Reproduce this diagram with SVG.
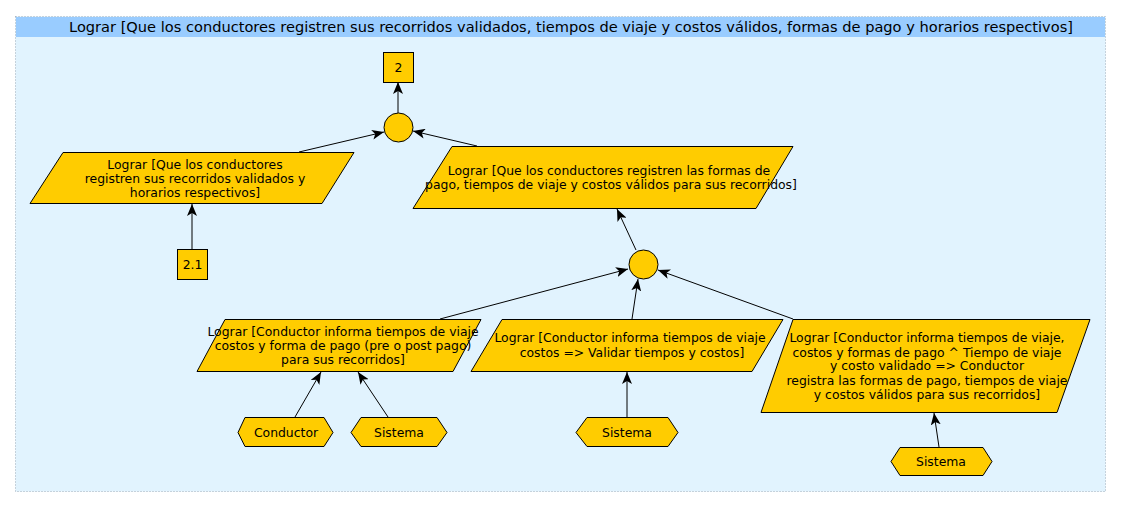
<svg xmlns="http://www.w3.org/2000/svg" width="1121" height="507" viewBox="0 0 1121 507">
<style>
.goal{fill:#ffcc00;stroke:#000;stroke-width:1}
.t{font-family:"DejaVu Sans",sans-serif;font-size:12.4px;fill:#000;text-anchor:middle}
.h{font-family:"DejaVu Sans",sans-serif;font-size:14.6px;fill:#000;text-anchor:middle}
.c{stroke:#000;stroke-width:1;fill:none;marker-end:url(#arr)}
</style>
<defs>
<marker id="arr" markerUnits="userSpaceOnUse" viewBox="0 0 12 10" refX="12" refY="5" markerWidth="12" markerHeight="10" orient="auto">
<path d="M0,0 L12,5 L0,10 L3,5 z" fill="#000"/>
</marker>
</defs>
<g id="container">
<rect x="15.5" y="16.5" width="1090" height="475" fill="#e1f3fe" stroke="#9aaabb" stroke-dasharray="1,2"/>
<rect x="16" y="17" width="1089" height="20" fill="#99ccff"/>
<text class="h" x="571" y="32">Lograr [Que los conductores registren sus recorridos validados, tiempos de viaje y costos válidos, formas de pago y horarios respectivos]</text>
</g>
<g id="connectors">
<line class="c" x1="398" y1="113" x2="398" y2="82"/>
<line class="c" x1="299" y1="152" x2="384" y2="132"/>
<line class="c" x1="477" y1="146" x2="413" y2="131"/>
<line class="c" x1="192" y1="249" x2="192" y2="204"/>
<line class="c" x1="636" y1="250" x2="617" y2="209"/>
<line class="c" x1="440" y1="319" x2="628" y2="269"/>
<line class="c" x1="632" y1="319" x2="638" y2="279"/>
<line class="c" x1="793" y1="319" x2="658" y2="270"/>
<line class="c" x1="295" y1="417" x2="321" y2="372"/>
<line class="c" x1="388" y1="417" x2="358" y2="372"/>
<line class="c" x1="627" y1="417" x2="627" y2="372"/>
<line class="c" x1="939" y1="447" x2="934" y2="413"/>
</g>
<g id="n2">
<rect class="goal" x="383.5" y="52.5" width="30" height="30"/>
<text class="t" x="398.5" y="71.5">2</text>
</g>
<g id="and1">
<circle class="goal" cx="398.5" cy="127.5" r="14.5"/>
</g>
<g id="g-left">
<polygon class="goal" points="63,152.5 354,152.5 322,203.5 30,203.5"/>
<text class="t" x="195" y="168.5">Lograr [Que los conductores</text>
<text class="t" x="195" y="182.5">registren sus recorridos validados y</text>
<text class="t" x="195" y="196.5">horarios respectivos]</text>
</g>
<g id="g-right">
<polygon class="goal" points="452,146.5 793,146.5 756,208.5 413,208.5"/>
<text class="t" x="609" y="175">Lograr [Que los conductores registren las formas de</text>
<text class="t" x="611" y="189">pago, tiempos de viaje y costos válidos para sus recorridos]</text>
</g>
<g id="n21">
<rect class="goal" x="177.5" y="249.5" width="30" height="30"/>
<text class="t" x="192.5" y="268.5">2.1</text>
</g>
<g id="and2">
<circle class="goal" cx="643.5" cy="264.5" r="14.5"/>
</g>
<g id="g-b1">
<polygon class="goal" points="225,319.5 481,319.5 453,371.5 197,371.5"/>
<text class="t" x="343" y="335.5">Lograr [Conductor informa tiempos de viaje</text>
<text class="t" x="343" y="349.5">costos y forma de pago (pre o post pago)</text>
<text class="t" x="343" y="363.5">para sus recorridos]</text>
</g>
<g id="g-b2">
<polygon class="goal" points="502,319.5 783,319.5 752,371.5 471,371.5"/>
<text class="t" x="630" y="342">Lograr [Conductor informa tiempos de viaje</text>
<text class="t" x="632" y="356.5">costos =&gt; Validar tiempos y costos]</text>
</g>
<g id="g-b3">
<polygon class="goal" points="793,319.5 1090,319.5 1057,412.5 761,412.5"/>
<text class="t" x="927" y="342">Lograr [Conductor informa tiempos de viaje,</text>
<text class="t" x="927" y="356.5">costos y formas de pago ^ Tiempo de viaje</text>
<text class="t" x="927" y="370">y costo validado =&gt; Conductor</text>
<text class="t" x="927" y="384.5">registra las formas de pago, tiempos de viaje</text>
<text class="t" x="927" y="398.5">y costos válidos para sus recorridos]</text>
</g>
<g id="a-conductor">
<polygon class="goal" points="238,432.5 245,417.5 324,417.5 333,432.5 324,446.5 245,446.5"/>
<text class="t" x="286" y="436.5">Conductor</text>
</g>
<g id="a-sistema1">
<polygon class="goal" points="351,432.5 361,417.5 437,417.5 447,432.5 437,446.5 361,446.5"/>
<text class="t" x="399" y="436.5">Sistema</text>
</g>
<g id="a-sistema2">
<polygon class="goal" points="576,432.5 587,417.5 668,417.5 678,432.5 668,446.5 587,446.5"/>
<text class="t" x="627" y="436.5">Sistema</text>
</g>
<g id="a-sistema3">
<polygon class="goal" points="891,461.5 900,447.5 983,447.5 992,461.5 983,475.5 900,475.5"/>
<text class="t" x="941" y="465.5">Sistema</text>
</g>
</svg>
